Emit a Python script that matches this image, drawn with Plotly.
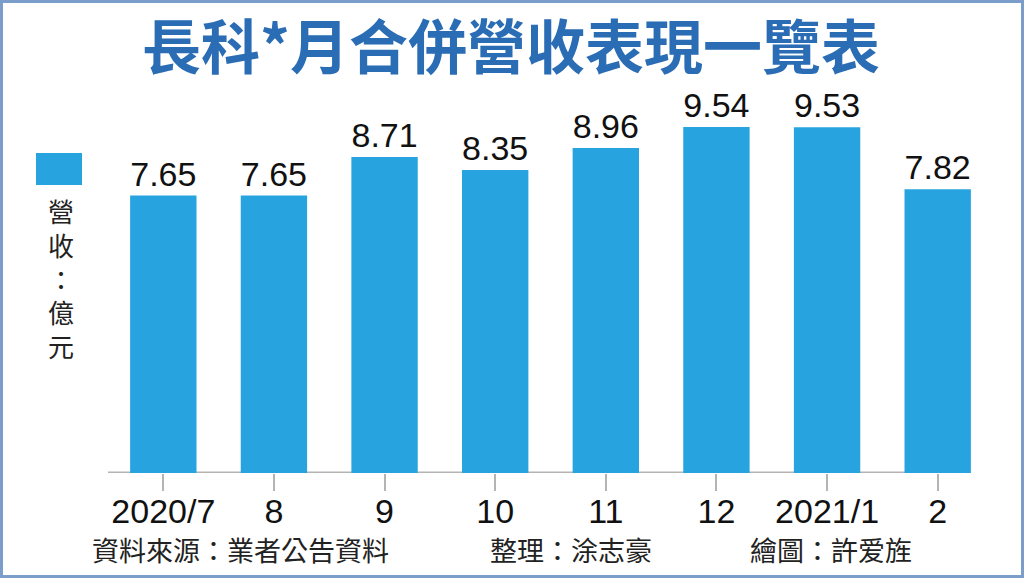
import plotly.graph_objects as go

# data
months = ["2020/7", "8", "9", "10", "11", "12", "2021/1", "2"]
revenue = [7.65, 7.65, 8.71, 8.35, 8.96, 9.54, 9.53, 7.82]

title_text = "長科*月合併營收表現一覽表"
unit_text = "營<br>收<br>：<br>億<br>元"
source_text = "資料來源：業者公告資料"
editor_text = "整理：涂志豪"
artist_text = "繪圖：許爱旌"

BAR_BLUE = "#27a4e0"
TITLE_BLUE = "#2a6db5"
CJK = "Noto Sans CJK TC"
LATIN = "Liberation Sans, Arial, sans-serif"

W, H = 1024, 578
ML, MR, MT, MB = 108, 31, 74, 105
PW, PH = W - ML - MR, H - MT - MB


def px_x(px):
    return (px - ML) / PW


def px_y(py):
    return (H - MB - py) / PH


fig = go.Figure()
fig.add_trace(go.Bar(
    x=months, y=revenue,
    marker=dict(color=BAR_BLUE, line=dict(width=0)),
    width=0.6,
    texttemplate="%{y:.2f}", textposition="outside",
    outsidetextfont=dict(family=LATIN, size=34, color="#111111"),
    constraintext="none", cliponaxis=False,
    hoverinfo="skip",
))

shapes = [
    # baseline
    dict(type="line", xref="x", yref="y", x0=-0.59, x1=7.3, y0=0, y1=0,
         line=dict(color="#b4b4b4", width=3), layer="below"),
    # legend swatch
    dict(type="rect", xref="paper", yref="paper",
         x0=px_x(36), x1=px_x(82), y0=px_y(185), y1=px_y(153),
         fillcolor=BAR_BLUE, line=dict(width=0)),
    # frame
    dict(type="rect", xref="paper", yref="paper",
         x0=px_x(1.5), x1=px_x(1022.5), y0=px_y(576.5), y1=px_y(1.5),
         line=dict(color="#7b9dc9", width=3)),
]

annotations = [
    dict(text=title_text, x=px_x(511), y=px_y(44), xref="paper", yref="paper",
         showarrow=False, xanchor="center", yanchor="middle",
         font=dict(family=CJK, size=59, color=TITLE_BLUE, weight=700)),
    dict(text=unit_text, x=px_x(61), y=px_y(278), xref="paper", yref="paper",
         showarrow=False, xanchor="center", yanchor="middle",
         font=dict(family=CJK, size=26, color="#222222")),
    dict(text=source_text, x=px_x(90), y=px_y(549), xref="paper", yref="paper",
         showarrow=False, xanchor="left", yanchor="middle",
         font=dict(family=CJK, size=27, color="#222222")),
    dict(text=editor_text, x=px_x(488), y=px_y(549), xref="paper", yref="paper",
         showarrow=False, xanchor="left", yanchor="middle",
         font=dict(family=CJK, size=27, color="#222222")),
    dict(text=artist_text, x=px_x(748), y=px_y(549), xref="paper", yref="paper",
         showarrow=False, xanchor="left", yanchor="middle",
         font=dict(family=CJK, size=27, color="#222222")),
]

fig.update_layout(
    width=W, height=H,
    margin=dict(l=ML, r=MR, t=MT, b=MB),
    paper_bgcolor="white", plot_bgcolor="white",
    showlegend=False,
    shapes=shapes,
    annotations=annotations,
    bargap=0.4,
)
fig.update_xaxes(
    showline=False, showgrid=False, zeroline=False,
    ticks="outside", ticklen=17, tickwidth=2, tickcolor="#b4b4b4",
    tickfont=dict(family=LATIN, size=34, color="#111111"),
    ticklabelstandoff=-9,
    range=[-0.5, 7.5],
)
fig.update_yaxes(
    visible=False, range=[0, 11], showgrid=False, zeroline=False,
)

# drop the page's default body margin so the figure sits at the window origin
fig.write_html(
    "out.html",
    config={"displayModeBar": False},
    post_script="document.body.style.margin='0';document.body.style.overflow='hidden';",
)
